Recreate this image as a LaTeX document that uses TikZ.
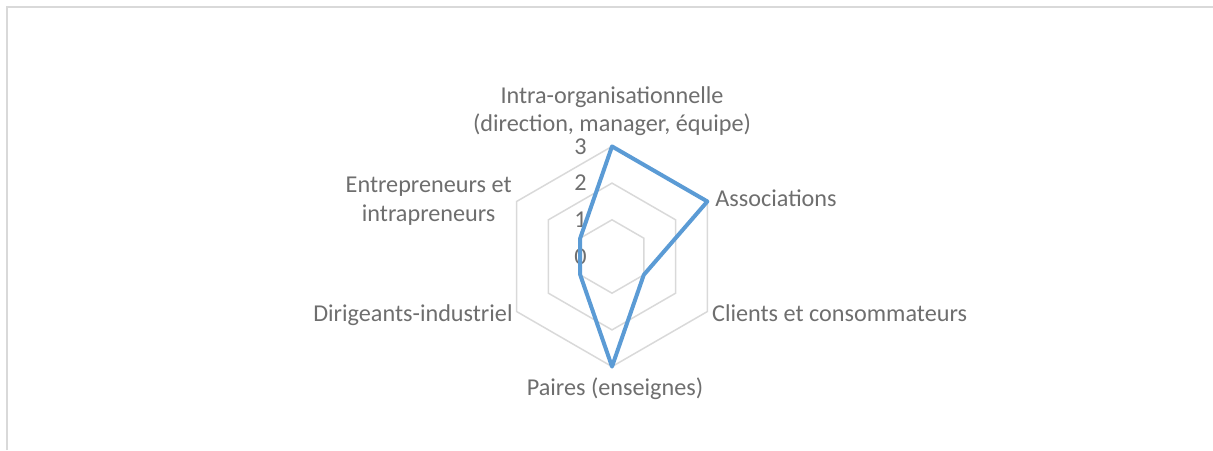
\documentclass[tikz,border=0pt]{standalone}
\usepackage{fontspec}
\setmainfont{Carlito}
\usepackage{tikz}
\definecolor{gridgray}{HTML}{D9D9D9}
\definecolor{labelgray}{HTML}{6E6E6E}
\definecolor{serieblue}{HTML}{5B9BD5}
\tikzstyle{gridline} = [draw=gridgray, line width=0.75pt]
\tikzstyle{serie} = [draw=serieblue, line width=2pt, line join=round]
\tikzstyle{axislabel} = [text=labelgray, inner sep=0pt, font=\fontsize{12.1}{14.2}\selectfont]

\begin{document}
\begin{tikzpicture}[x=0.5pt, y=0.5pt]
\useasboundingbox (-612,-193.5) rectangle (601,256.5);
% chart area frame (right and bottom sides cut off)
\draw[gridgray, line width=0.75pt] (-605,-193.5) -- (-605,249.5) -- (601,249.5);

% hexagonal grid
\foreach \r in {36.7,73.4,110.1}
  \draw[gridline] (90:\r) -- (30:\r) -- (-30:\r) -- (-90:\r) -- (-150:\r) -- (150:\r) -- cycle;

% scale
\foreach \v in {0,1,2,3}
  \node[axislabel, anchor=east] (val\v) at (-25,{36.7*\v}) {\v};

% data points
\coordinate (intra) at (90:110.1);
\coordinate (assoc) at (30:110.1);
\coordinate (clients) at (-30:36.7);
\coordinate (paires) at (-90:110.1);
\coordinate (dirig) at (-150:36.7);
\coordinate (entre) at (150:36.7);
\draw[serie] (intra) -- (assoc) -- (clients) -- (paires) -- (dirig) -- (entre) -- cycle;

% categories
\node[axislabel, align=center] (intra-lbl) at (0,145.5) {Intra-organisationnelle\\(direction, manager, équipe)};
\node[axislabel, anchor=base west] (assoc-lbl) at (103,50.5) {Associations};
\node[axislabel, anchor=base west] (clients-lbl) at (99.7,-65.2) {Clients et consommateurs};
\node[axislabel, anchor=base] (paires-lbl) at (3,-138.5) {Paires (enseignes)};
\node[axislabel, anchor=base east] (dirig-lbl) at (-99,-65.2) {Dirigeants-industriel};
\node[axislabel, anchor=east, align=center] (entre-lbl) at (-100,55.3) {Entrepreneurs et\\intrapreneurs};
\end{tikzpicture}
\end{document}
